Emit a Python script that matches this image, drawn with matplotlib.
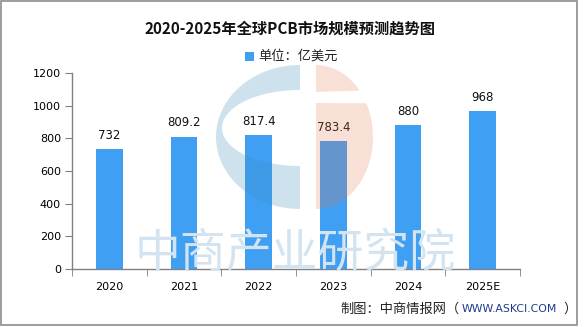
import numpy as np
import matplotlib.pyplot as plt
from matplotlib.patches import Polygon, Rectangle

plt.rcParams['font.family'] = ['Noto Sans CJK SC', 'DejaVu Sans']

# 全球PCB市场规模（亿美元）
years = ['2020', '2021', '2022', '2023', '2024', '2025E']
values = [732, 809.2, 817.4, 783.4, 880, 968]
value_labels = ['732', '809.2', '817.4', '783.4', '880', '968']
y_ticks = [0, 200, 400, 600, 800, 1000, 1200]

W, H = 585, 327
fig = plt.figure(figsize=(W / 100, H / 100), dpi=100)
fig.patch.set_facecolor('white')

ax = fig.add_axes([72 / W, 1 - 269 / H, 448 / W, 196 / H])
x = np.arange(len(years))
bar_color = '#3f9ff3'
ax.bar(x, values, width=0.36, color=bar_color, zorder=3)
for xi, v, lab in zip(x, values, value_labels):
    ax.text(xi, v + 45, lab, ha='center', va='bottom', fontsize=8.5,
            family='DejaVu Sans', color='#111111', zorder=4)

ax.set_xlim(-0.5, len(years) - 0.5)
ax.set_ylim(0, 1200)
ax.set_yticks(y_ticks)
ax.set_yticklabels([str(t) for t in y_ticks], fontsize=8, family='DejaVu Sans')
ax.set_xticks(x)
ax.set_xticklabels(years, fontsize=8, family='DejaVu Sans')
ax.set_xticks(np.arange(len(years) + 1) - 0.5, minor=True)
ax.tick_params(axis='x', which='major', length=0, pad=9)
ax.tick_params(axis='x', which='minor', length=5, color='#808080')
ax.tick_params(axis='y', length=5, color='#808080', pad=3)
for s in ['top', 'right']:
    ax.spines[s].set_visible(False)
for s in ['left', 'bottom']:
    ax.spines[s].set_color('#808080')
    ax.spines[s].set_linewidth(1.0)
ax.patch.set_alpha(0)

# 水印文字
fig.text(295 / W, 1 - 254 / H, '中商产业研究院', ha='center', va='center',
         fontsize=33, color='#d3e4f0', zorder=0)

# 水印logo，像素坐标
ov = fig.add_axes([0, 0, 1, 1], zorder=5)
ov.set_xlim(0, W)
ov.set_ylim(H, 0)
ov.axis('off')
ov.patch.set_alpha(0)

cy = 137
rx, ry = 84, 72
t = np.linspace(np.pi / 2, 3 * np.pi / 2, 80)
outer = np.column_stack([300 + rx * np.cos(t), cy - ry * np.sin(t)])
ti = np.linspace(3 * np.pi / 2, np.pi / 2, 60)
inner = np.column_stack([300 + 78 * np.cos(ti), 128 - 38 * np.sin(ti)])
blue_pts = np.vstack([outer, [[300, 167]], inner, [[300, 90]]])
ov.add_patch(Polygon(blue_pts, closed=True, facecolor=(60 / 255, 140 / 255, 190 / 255),
                     alpha=0.25, edgecolor='none'))

tr = np.linspace(np.pi / 2, -np.pi / 2, 120)
right = np.column_stack([316 + 57 * np.cos(tr), cy - ry * np.sin(tr)])
top_part = right[right[:, 1] <= 92]
bot_part = right[right[:, 1] >= 103]
orange = (232 / 255, 118 / 255, 73 / 255)
ov.add_patch(Polygon(np.vstack([top_part, [[316, 92]]]), closed=True,
                     facecolor=orange, alpha=0.22, edgecolor='none'))
ov.add_patch(Polygon(np.vstack([[[316, 103]], bot_part]), closed=True,
                     facecolor=orange, alpha=0.22, edgecolor='none'))

# 外框
ov.add_patch(Rectangle((0.5, 0.5), 576, 324.5, fill=False, edgecolor='#8c8c8c', linewidth=1.2))

fig.text(290 / W, 1 - 29 / H, '2020-2025年全球PCB市场规模预测趋势图', ha='center', va='center',
         fontsize=11, fontweight='bold', color='#111111')

# 图例
fig.patches.append(Rectangle((245 / W, 1 - 61 / H), 9 / W, 9 / H, transform=fig.transFigure,
                             facecolor=bar_color, edgecolor='none'))
fig.text(258 / W, 1 - 56 / H, '单位：亿美元', ha='left', va='center', fontsize=9.5, color='#222222')

fig.text(340 / W, 1 - 309 / H, '制图：中商情报网（', ha='left', va='center', fontsize=9.5, color='#222222')
fig.text(462 / W, 1 - 309 / H, 'WWW.ASKCI.COM', ha='left', va='center', fontsize=7.8,
         family='DejaVu Sans', color='#1f3c8c')
fig.text(563 / W, 1 - 309 / H, '）', ha='left', va='center', fontsize=9.5, color='#222222')

fig.savefig('out.png', dpi=100)
